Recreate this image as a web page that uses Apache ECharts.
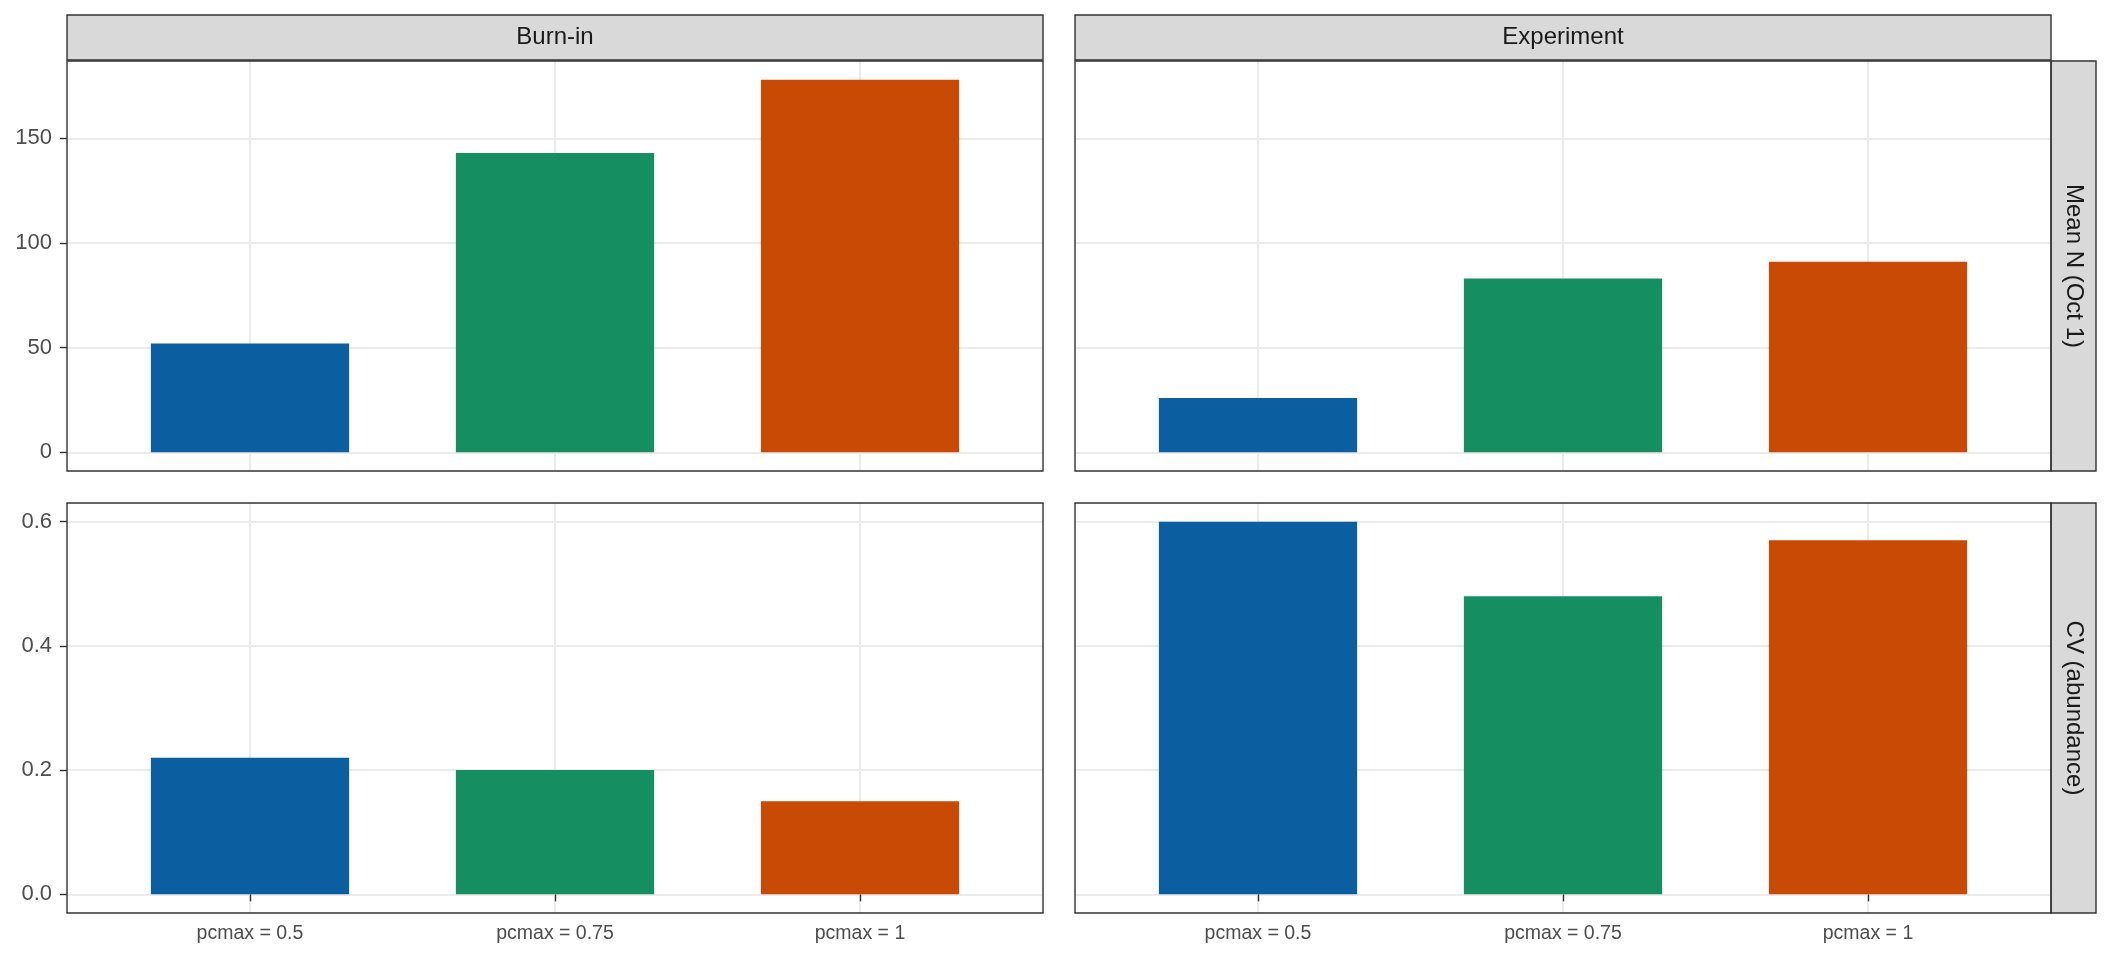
<!DOCTYPE html>
<html><head><meta charset="utf-8">
<script src="https://cdn.jsdelivr.net/npm/echarts@6/dist/echarts.min.js"></script>
<style>html,body{margin:0;padding:0;background:#fff}#c{width:2112px;height:960px}</style>
</head><body><div id="c"></div>
<script>
const categories = ['pcmax = 0.5', 'pcmax = 0.75', 'pcmax = 1'];
const phases = ['Burn-in', 'Experiment'];
const metrics = ['Mean N (Oct 1)', 'CV (abundance)'];
const burnInMeanN = [52, 143, 178];
const experimentMeanN = [26, 83, 91];
const burnInCV = [0.22, 0.20, 0.15];
const experimentCV = [0.60, 0.48, 0.57];
const meanNTicks = [0, 50, 100, 150];
const cvTicks = [0, 0.2, 0.4, 0.6];
const barColors = ['#0B5EA0', '#158F62', '#C94A05'];

const FONT = '"Liberation Sans", Arial, Helvetica, sans-serif';
const panelLeft = [67, 1075];
const panelWidth = 976;
const panelTop = [61, 503];
const panelHeight = 410;
const stripH = 45;
const stripW = 45;
const NONE = 'rgba(0,0,0,0)';

const rows = [
  { values: [burnInMeanN, experimentMeanN], ticks: meanNTicks, fmt: v => String(Math.round(v)) },
  { values: [burnInCV, experimentCV], ticks: cvTicks, fmt: v => v.toFixed(1) }
];

const grids = [], xAxes = [], yAxes = [], series = [], graphics = [];
rows.forEach((row, r) => {
  const maxV = Math.max(...row.values[0], ...row.values[1]);
  const lo = -0.05 * maxV, hi = maxV * 1.05;
  phases.forEach((ph, c) => {
    const idx = grids.length;
    grids.push({
      left: panelLeft[c], top: panelTop[r], width: panelWidth, height: panelHeight, show: false
    });
    const bottom = r === rows.length - 1;
    const xPos = categories.map((_, i) => i + 1);
    xAxes.push({
      type: 'value', gridIndex: idx, min: 0.4, max: categories.length + 0.6, z: 0,
      axisLine: { show: false },
      axisTick: { show: true, length: bottom ? 7 : 0,
        lineStyle: { color: bottom ? '#333333' : NONE, width: 1.4 }, customValues: xPos },
      axisLabel: { show: bottom, margin: 11, color: '#4d4d4d', fontSize: 19.5, fontFamily: FONT,
        customValues: xPos, formatter: v => categories[Math.round(v) - 1] || '' },
      splitLine: { show: true, lineStyle: { color: '#ebebeb', width: 2 } },
      minorSplitLine: { show: false }
    });
    yAxes.push({
      type: 'value', gridIndex: idx, min: lo, max: hi, z: 0,
      axisLine: { show: false },
      axisTick: { show: true, length: c === 0 ? 7 : 0,
        lineStyle: { color: c === 0 ? '#333333' : NONE, width: 1.4 }, customValues: row.ticks },
      axisLabel: { show: c === 0, margin: 15, color: '#4d4d4d', fontSize: 22, fontFamily: FONT,
        customValues: row.ticks, formatter: row.fmt },
      splitLine: { show: true, lineStyle: { color: '#ebebeb', width: 2 } }
    });
    series.push({
      type: 'bar', xAxisIndex: idx, yAxisIndex: idx, barWidth: '65%', silent: true, z: 5,
      data: row.values[c].map((v, i) => ({ value: [i + 1, v], itemStyle: { color: barColors[i] } }))
    });
    graphics.push({
      type: 'rect', silent: true, z: 12,
      shape: { x: panelLeft[c], y: panelTop[r], width: panelWidth, height: panelHeight },
      style: { fill: 'none', stroke: '#333333', lineWidth: 1.4 }
    });
  });
});

phases.forEach((ph, c) => {
  graphics.push({
    type: 'rect', shape: { x: panelLeft[c], y: panelTop[0] - stripH - 1, width: panelWidth, height: stripH },
    style: { fill: '#d9d9d9', stroke: '#333333', lineWidth: 1.4 }, z: 10
  });
  graphics.push({
    type: 'text', x: panelLeft[c] + panelWidth / 2, y: panelTop[0] - stripH / 2 - 1, z: 11,
    style: { text: ph, font: '24px ' + FONT, fill: '#1a1a1a', align: 'center', verticalAlign: 'middle' }
  });
});
metrics.forEach((m, r) => {
  const x0 = panelLeft[1] + panelWidth;
  graphics.push({
    type: 'rect', shape: { x: x0, y: panelTop[r], width: stripW, height: panelHeight },
    style: { fill: '#d9d9d9', stroke: '#333333', lineWidth: 1.4 }, z: 10
  });
  graphics.push({
    type: 'text', x: x0 + stripW / 2, y: panelTop[r] + panelHeight / 2, rotation: -Math.PI / 2, z: 11,
    style: { text: m, font: '24px ' + FONT, fill: '#1a1a1a', align: 'center', verticalAlign: 'middle' }
  });
});

const chart = echarts.init(document.getElementById('c'), null, { renderer: 'canvas' });
chart.setOption({
  animation: false,
  backgroundColor: '#ffffff',
  grid: grids, xAxis: xAxes, yAxis: yAxes, series: series,
  graphic: graphics
});
</script></body></html>
